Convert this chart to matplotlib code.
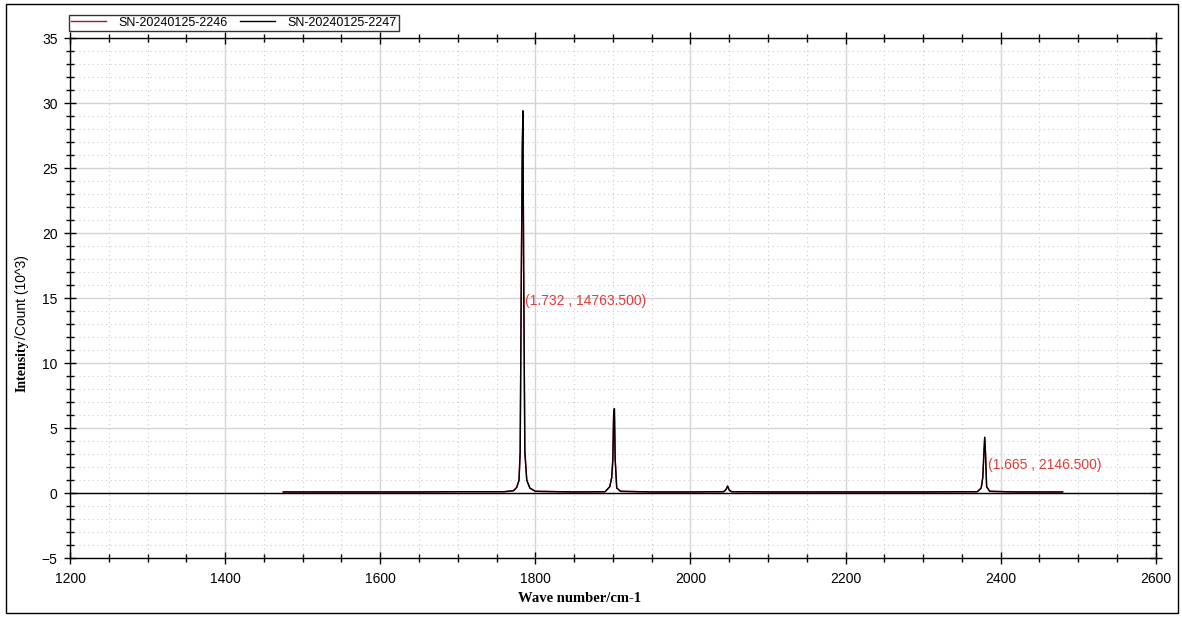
import matplotlib
matplotlib.use("Agg")
import matplotlib.pyplot as plt
from matplotlib.ticker import MultipleLocator
from matplotlib.patches import Rectangle

# spectrum (intensity in 10^3 counts)
wavenumber = [1475, 1550, 1650, 1700, 1760, 1772, 1776, 1779, 1780.5, 1782, 1783.2, 1784, 1785, 1786.5,
              1789, 1793, 1800, 1850, 1890, 1896, 1898.5, 1900, 1901, 1902, 1903, 1905, 1910, 1950,
              2000, 2043, 2046, 2048, 2050, 2053, 2100, 2200, 2300, 2370, 2375, 2377, 2378.5, 2379.5,
              2380.5, 2382, 2386, 2420, 2480]
intensity = [0.1, 0.1, 0.1, 0.12, 0.12, 0.2, 0.45, 1.0, 3.2, 17.0, 26.4, 29.4, 17.0, 3.2,
             1.0, 0.4, 0.15, 0.1, 0.12, 0.5, 1.2, 2.6, 6.0, 6.5, 2.6, 0.4, 0.15, 0.1,
             0.1, 0.12, 0.3, 0.55, 0.25, 0.12, 0.1, 0.1, 0.1, 0.12, 0.4, 1.2, 3.1, 4.3,
             3.1, 0.5, 0.15, 0.1, 0.1]

series_names = ["SN-20240125-2246", "SN-20240125-2247"]
series_colors = ["#b01030", "black"]

notes = ["(1.732 , 14763.500)", "(1.665 , 2146.500)"]
note_x = [1787, 2384]
note_y = [14.7635, 2.1465]

W, H = 1182, 617
fig = plt.figure(figsize=(W / 100, H / 100), dpi=100)
ax = fig.add_axes([70 / W, 1 - 558.3 / H, 1085.7 / W, 520.3 / H])

for name, col in zip(series_names, series_colors):
    ax.plot(wavenumber, intensity, color=col, lw=1.0, label=name)

ax.axhline(0, color="black", lw=1.0, zorder=1)

for t, x, y in zip(notes, note_x, note_y):
    ax.text(x, y, t, color="#e03c3c", fontsize=10, family="Liberation Sans",
            ha="left", va="center")

ax.set_xlim(1200, 2600)
ax.set_ylim(-5, 35)
ax.xaxis.set_major_locator(MultipleLocator(200))
ax.xaxis.set_minor_locator(MultipleLocator(50))
ax.yaxis.set_major_locator(MultipleLocator(5))
ax.yaxis.set_minor_locator(MultipleLocator(1))
ax.grid(which="major", color="#d4d4d4", lw=1.0)
ax.grid(which="minor", color="#cccccc", lw=0.8, ls=(0, (1, 3)))
ax.set_axisbelow(True)

ax.tick_params(which="both", direction="inout", top=True, right=True, labelsize=10, width=1)
ax.tick_params(which="major", length=8)
ax.tick_params(which="minor", length=6)
for lbl in ax.get_xticklabels() + ax.get_yticklabels():
    lbl.set_family("Liberation Sans")
ax.tick_params(axis="x", pad=6)
ax.tick_params(axis="y", pad=5)
for s in ax.spines.values():
    s.set_linewidth(1.0)

fig.text(580 / W, 1 - 599 / H, "Wave number/cm-1", family="Liberation Serif",
         weight="bold", fontsize=10.5, ha="center", va="center")
fig.text(22 / W, 1 - 392 / H, "Intensity", family="Liberation Serif", weight="bold",
         fontsize=10, rotation=90, ha="center", va="bottom")
fig.text(22 / W, 1 - 339 / H, "/Count (10^3)", family="Liberation Sans",
         fontsize=10, rotation=90, ha="center", va="bottom")

leg = ax.legend(loc="lower left", bbox_to_anchor=(-0.008, 1.0), ncol=2, fontsize=9,
                frameon=True, fancybox=False, edgecolor="black", borderpad=0.15,
                handlelength=2.8, columnspacing=1.0, handletextpad=1.0,
                borderaxespad=0.6, prop={"family": "Liberation Sans", "size": 9})
leg.get_frame().set_linewidth(1.0)

fig.patches.append(Rectangle((6 / W, 1 - 613 / H), 1172 / W, 609 / H,
                             transform=fig.transFigure, fill=False,
                             edgecolor="black", lw=1.0))

fig.savefig("out.png", dpi=100)
